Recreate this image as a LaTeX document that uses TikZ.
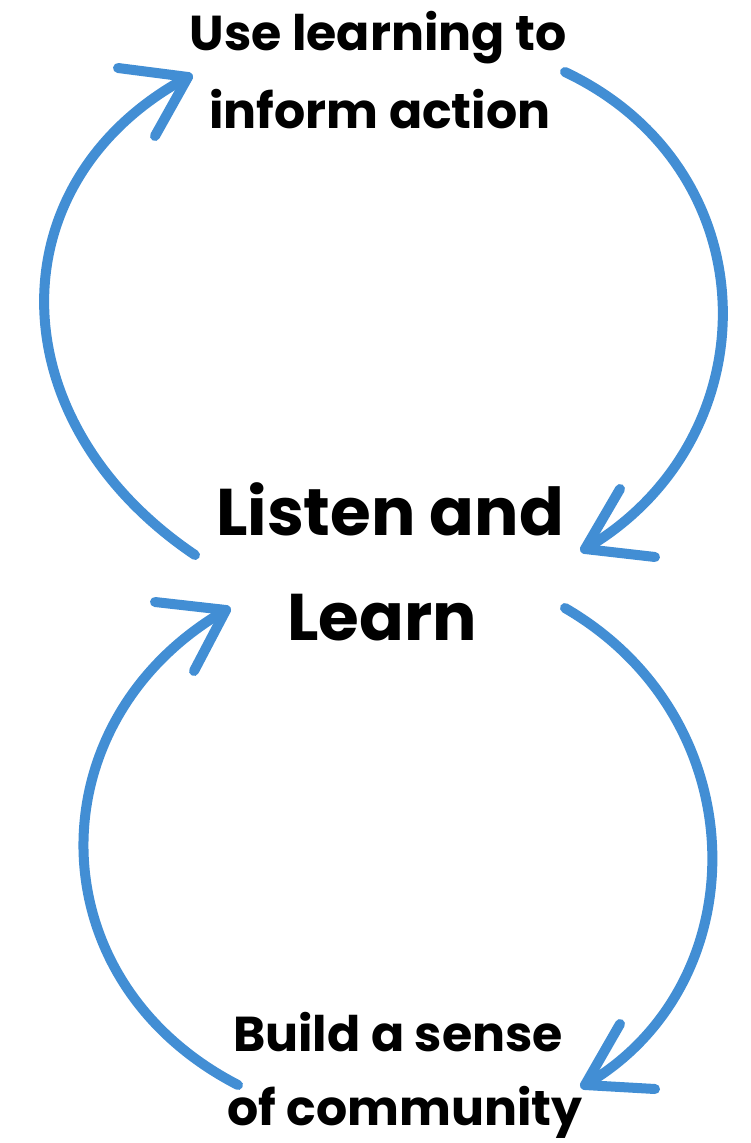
\documentclass[tikz,border=0pt]{standalone}
\usepackage{fontspec}
\setmainfont{Poppins}
\definecolor{arcblue}{RGB}{66,142,212}
\begin{document}
\begin{tikzpicture}[x=1pt,y=-1pt,
  arc/.style={draw=arcblue,line width=10pt,line cap=round,line join=round},
  lbl/.style={text=black,inner sep=0pt,anchor=base},
  small/.style={lbl,font=\bfseries\fontsize{49}{58}\selectfont},
  big/.style={lbl,font=\bfseries\fontsize{66}{78}\selectfont},
  bottom/.style={lbl,font=\bfseries\fontsize{49}{58}\selectfont},
]
\useasboundingbox (0,0) rectangle (750,1143);
\fill[white] (0,0) rectangle (750,1143);
% labels
\node[small] (use1) at (378,50) {Use learning to};
\node[small] (use2) at (380,128) {inform action};
\node[big] (lis1) at (390,535) {Listen and};
\node[big] (lis2) at (382,640) {Learn};
\node[bottom] (bui1) at (398,1051) {Build a sense};
\node[bottom] (bui2) at (405,1125) {of community};
% connector ends
\coordinate (t1) at (195,555);  \coordinate (h1) at (188,77);
\coordinate (a1) at (118,68);   \coordinate (b1) at (155,136);
\coordinate (t2) at (565,72);   \coordinate (h2) at (585,549);
\coordinate (a2) at (620,489);  \coordinate (b2) at (655,557);
\coordinate (t3) at (238,1085); \coordinate (h3) at (226,610);
\coordinate (a3) at (155,602);  \coordinate (b3) at (194,671);
\coordinate (t4) at (565,608);  \coordinate (h4) at (585,1085);
\coordinate (a4) at (620,1024); \coordinate (b4) at (655,1089);
% arcs
\draw[arc] (t1) .. controls (-5,420) and (-5,180) .. (h1);
\draw[arc] (a1) -- (h1) -- (b1);
\draw[arc] (t2) .. controls (772,170) and (772,440) .. (h2);
\draw[arc] (a2) -- (h2) -- (b2);
\draw[arc] (t3) .. controls (34,980) and (34,720) .. (h3);
\draw[arc] (a3) -- (h3) -- (b3);
\draw[arc] (t4) .. controls (758,720) and (758,985) .. (h4);
\draw[arc] (a4) -- (h4) -- (b4);
\end{tikzpicture}
\end{document}
